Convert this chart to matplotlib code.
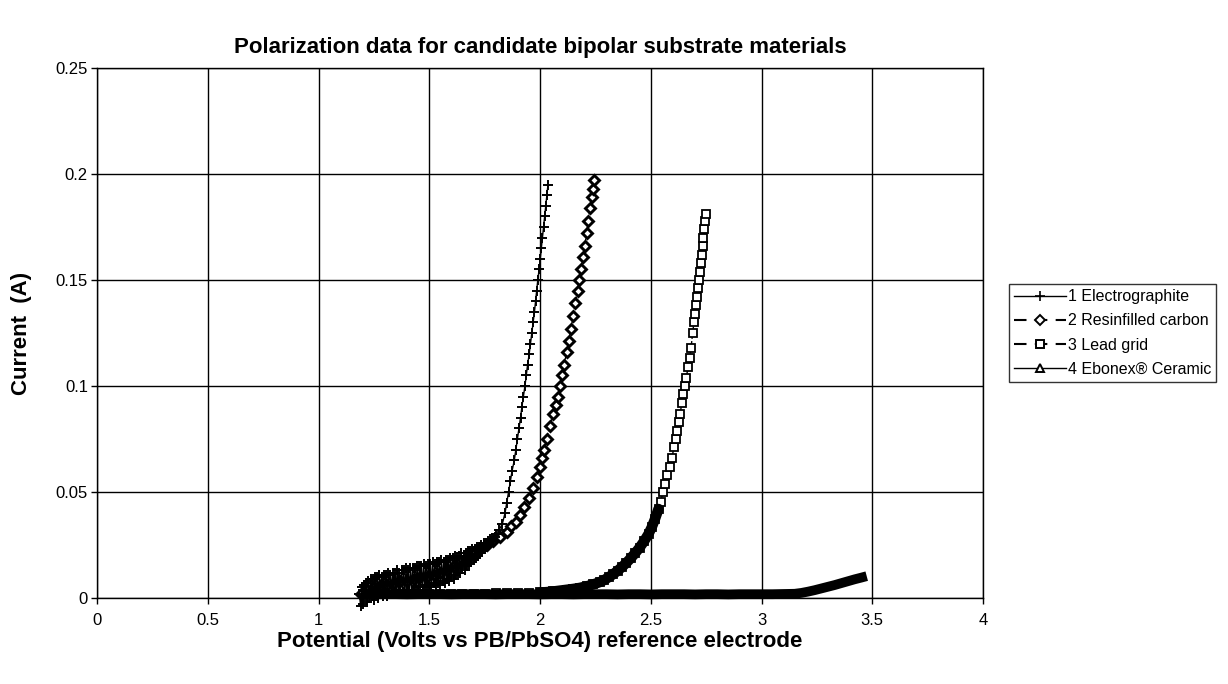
import matplotlib
matplotlib.use('Agg')
import matplotlib.pyplot as plt
import matplotlib.ticker as ticker
from matplotlib.lines import Line2D

plt.rcParams['font.family'] = ['Liberation Sans', 'DejaVu Sans']

# ---------------------------------------------------------------------------
# Data
# ---------------------------------------------------------------------------

title = "Polarization data for candidate bipolar substrate materials"
xlabel = "Potential (Volts vs PB/PbSO4) reference electrode"
ylabel = "Current  (A)"
labels = ["1 Electrographite", "2 Resinfilled carbon", "3 Lead grid", "4 Ebonex\u00ae Ceramic"]

x_ticks = [0, 0.5, 1, 1.5, 2, 2.5, 3, 3.5, 4]
y_ticks = [0, 0.05, 0.1, 0.15, 0.2, 0.25]

# 1 Electrographite: noisy plateau then steep rise
graphite_v = [1.185, 1.190, 1.195, 1.200, 1.205, 1.210, 1.215, 1.220, 1.225, 1.230,
              1.235, 1.240, 1.245, 1.250, 1.255, 1.260, 1.265, 1.270, 1.275, 1.280,
              1.285, 1.290, 1.295, 1.300, 1.305, 1.310, 1.315, 1.320, 1.325, 1.330,
              1.335, 1.340, 1.345, 1.350, 1.355, 1.360, 1.365, 1.370, 1.375, 1.380,
              1.385, 1.390, 1.395, 1.400, 1.405, 1.410, 1.415, 1.420, 1.425, 1.430,
              1.435, 1.440, 1.445, 1.450, 1.455, 1.460, 1.465, 1.470, 1.475, 1.480,
              1.485, 1.490, 1.495, 1.500, 1.505, 1.510, 1.515, 1.520, 1.525, 1.530,
              1.535, 1.540, 1.545, 1.550, 1.555, 1.560, 1.565, 1.570, 1.575, 1.580,
              1.585, 1.590, 1.595, 1.600, 1.605, 1.610, 1.615, 1.620, 1.625, 1.630,
              1.635, 1.640, 1.645, 1.650, 1.655, 1.660, 1.665, 1.670, 1.675, 1.680,
              1.685, 1.690, 1.695, 1.700, 1.705, 1.710, 1.715, 1.720, 1.725, 1.730,
              1.735, 1.740, 1.745, 1.750, 1.755, 1.760, 1.765, 1.770, 1.775, 1.780,
              1.785, 1.790, 1.795, 1.800,
              1.815, 1.830, 1.842, 1.850, 1.858, 1.866, 1.874, 1.884, 1.891, 1.898,
              1.905, 1.912, 1.918, 1.925, 1.932, 1.938, 1.944, 1.951, 1.957, 1.963,
              1.969, 1.975, 1.980, 1.985, 1.990, 1.996, 2.001, 2.006, 2.011, 2.016,
              2.021, 2.026, 2.031, 2.036]
graphite_i = [0.002, -0.004, 0.005, -0.003, 0.006, 0.001, 0.007, -0.002, 0.008, 0.000,
              0.009, 0.001, 0.009, -0.001, 0.010, 0.002, 0.010, 0.000, 0.011, 0.002,
              0.010, 0.001, 0.011, 0.003, 0.011, 0.001, 0.012, 0.002, 0.011, 0.003,
              0.012, 0.002, 0.012, 0.003, 0.013, 0.002, 0.012, 0.004, 0.013, 0.003,
              0.013, 0.002, 0.014, 0.004, 0.013, 0.003, 0.014, 0.004, 0.014, 0.003,
              0.014, 0.005, 0.015, 0.004, 0.015, 0.005, 0.015, 0.004, 0.016, 0.006,
              0.015, 0.005, 0.016, 0.006, 0.016, 0.005, 0.017, 0.007, 0.016, 0.006,
              0.017, 0.007, 0.017, 0.006, 0.018, 0.008, 0.017, 0.007, 0.018, 0.009,
              0.018, 0.008, 0.019, 0.010, 0.019, 0.009, 0.020, 0.011, 0.019, 0.012,
              0.020, 0.012, 0.021, 0.014, 0.020, 0.013, 0.021, 0.015, 0.022, 0.016,
              0.022, 0.017, 0.023, 0.018, 0.023, 0.019, 0.024, 0.020, 0.024, 0.021,
              0.025, 0.022, 0.026, 0.023, 0.026, 0.024, 0.027, 0.025, 0.028, 0.026,
              0.028, 0.027, 0.029, 0.030,
              0.032, 0.035, 0.040, 0.045, 0.050, 0.055, 0.060, 0.065, 0.070, 0.075,
              0.080, 0.085, 0.090, 0.095, 0.100, 0.105, 0.110, 0.115, 0.120, 0.125,
              0.130, 0.135, 0.140, 0.145, 0.150, 0.155, 0.160, 0.165, 0.170, 0.175,
              0.180, 0.185, 0.190, 0.195]

# 2 Resinfilled carbon
resin_v = [1.19, 1.22, 1.25, 1.28, 1.31, 1.34, 1.37, 1.40, 1.43, 1.46, 1.49, 1.52,
           1.55, 1.58, 1.61, 1.64, 1.67, 1.70, 1.73, 1.76, 1.79,
           1.82, 1.85, 1.87, 1.89, 1.91, 1.93, 1.95, 1.97, 1.985, 2.00, 2.01, 2.02,
           2.03, 2.045, 2.06, 2.07, 2.08, 2.09, 2.10, 2.11, 2.12, 2.13, 2.14, 2.15,
           2.16, 2.17, 2.178, 2.186, 2.194, 2.202, 2.21, 2.218, 2.226, 2.234, 2.240, 2.245]
resin_i = [0.002, 0.004, 0.005, 0.006, 0.006, 0.007, 0.008, 0.008, 0.009, 0.010, 0.010, 0.011,
           0.012, 0.013, 0.015, 0.017, 0.019, 0.021, 0.023, 0.025, 0.027,
           0.029, 0.031, 0.034, 0.036, 0.039, 0.043, 0.047, 0.052, 0.057, 0.062, 0.066, 0.070,
           0.075, 0.081, 0.087, 0.091, 0.095, 0.100, 0.105, 0.110, 0.116, 0.121, 0.127, 0.133,
           0.139, 0.145, 0.150, 0.155, 0.161, 0.166, 0.172, 0.178, 0.184, 0.189, 0.193, 0.197]

# 3 Lead grid
lead_v = [1.50, 1.55, 1.60, 1.65, 1.70, 1.75, 1.80, 1.85, 1.90, 1.95, 2.00, 2.03,
          2.06, 2.09, 2.12, 2.15, 2.18, 2.21, 2.24, 2.27, 2.29, 2.31, 2.33, 2.35,
          2.37, 2.39, 2.41, 2.43, 2.45, 2.47, 2.49, 2.505, 2.52, 2.535, 2.545, 2.555,
          2.565, 2.575, 2.585, 2.595, 2.605, 2.612, 2.619, 2.626, 2.633, 2.640, 2.647,
          2.654, 2.661, 2.668, 2.675, 2.682, 2.689, 2.695, 2.700, 2.705, 2.710, 2.714,
          2.718, 2.722, 2.726, 2.730, 2.734, 2.738, 2.742, 2.746, 2.749]
lead_i = [0.0020, 0.0020, 0.0021, 0.0020, 0.0021, 0.0021, 0.0022, 0.0022, 0.0023, 0.0024,
          0.0026, 0.0028, 0.0031, 0.0035, 0.0039, 0.0043, 0.0048, 0.0055, 0.0064, 0.0075,
          0.0085, 0.0098, 0.0112, 0.0128, 0.0146, 0.0166, 0.0188, 0.0212, 0.0238, 0.0268,
          0.0302, 0.0335, 0.0375, 0.0420, 0.0455, 0.050, 0.054, 0.058, 0.062, 0.066,
          0.071, 0.075, 0.079, 0.083, 0.087, 0.092, 0.096, 0.100, 0.104, 0.109, 0.113,
          0.118, 0.125, 0.130, 0.134, 0.138, 0.142, 0.146, 0.150, 0.154, 0.158, 0.162,
          0.166, 0.170, 0.174, 0.178, 0.181]
# slice where the squares merge into one solid black stroke
lead_solid = slice(10, 34)

# 4 Ebonex Ceramic: flat near zero, slight rise above 3.15 V
ebonex_v = [1.20, 1.25, 1.30, 1.35, 1.40, 1.45, 1.50, 1.55, 1.60, 1.65, 1.70, 1.75,
            1.80, 1.85, 1.90, 1.95, 2.00, 2.05, 2.10, 2.15, 2.20, 2.25, 2.30, 2.35,
            2.40, 2.45, 2.50, 2.55, 2.60, 2.65, 2.70, 2.75, 2.80, 2.85, 2.90, 2.95,
            3.00, 3.05, 3.10, 3.15, 3.18, 3.21, 3.24, 3.27, 3.30, 3.33, 3.36, 3.39,
            3.42, 3.45, 3.475]
ebonex_i = [0.0018, 0.0017, 0.0018, 0.0018, 0.0017, 0.0018, 0.0018, 0.0018, 0.0017, 0.0018,
            0.0018, 0.0018, 0.0017, 0.0018, 0.0018, 0.0018, 0.0017, 0.0018, 0.0018, 0.0017,
            0.0018, 0.0018, 0.0018, 0.0017, 0.0018, 0.0018, 0.0017, 0.0018, 0.0018, 0.0018,
            0.0017, 0.0018, 0.0018, 0.0017, 0.0018, 0.0018, 0.0018, 0.0018, 0.0019, 0.0020,
            0.0024, 0.0030, 0.0037, 0.0045, 0.0053, 0.0061, 0.0070, 0.0079, 0.0088, 0.0096,
            0.0103]

# ---------------------------------------------------------------------------
# Figure
# ---------------------------------------------------------------------------

W, H = 1228, 684
fig = plt.figure(figsize=(W / 100, H / 100), dpi=100)
ax = fig.add_axes([97 / W, 86 / H, 886 / W, 530 / H])

ax.plot(resin_v, resin_i, color='black', lw=1, ls='--', marker='D', ms=5.5,
        mfc='white', mec='black', mew=2.1, clip_on=False, zorder=3)
ax.plot(graphite_v, graphite_i, color='black', lw=1, ls='-', marker='+',
        ms=7.5, mew=1.4, clip_on=False, zorder=4)
ax.plot(lead_v, lead_i, color='black', lw=1, ls='--', marker='s', ms=6,
        mfc='white', mec='black', mew=1.3, clip_on=False, zorder=5)
ax.plot(lead_v[lead_solid], lead_i[lead_solid], color='black', lw=7.5,
        solid_capstyle='round', clip_on=False, zorder=6)
# the dense triangles merge into one thick black stroke
ax.plot(ebonex_v, ebonex_i, color='black', lw=7, solid_capstyle='butt',
        clip_on=False, zorder=7)

ax.set_xlim(0, 4)
ax.set_ylim(0, 0.25)
ax.set_xticks(x_ticks)
ax.set_yticks(y_ticks)
ax.xaxis.set_major_formatter(ticker.FormatStrFormatter('%g'))
ax.yaxis.set_major_formatter(ticker.FormatStrFormatter('%g'))
ax.tick_params(direction='out', length=4.5, width=1, labelsize=12, pad=2, colors='black')
ax.tick_params(axis='x', pad=6)
ax.grid(True, color='black', lw=1)
ax.set_axisbelow(True)
for sp in ax.spines.values():
    sp.set_color('black')
    sp.set_linewidth(1)

fig.text(540 / W, 1 - 48 / H, title, ha='center', va='center',
         fontsize=16, fontweight='bold')
fig.text(540 / W, 1 - 641 / H, xlabel, ha='center', va='center',
         fontsize=16, fontweight='bold')
fig.text(22 / W, 1 - 333 / H, ylabel, ha='center', va='center',
         rotation=90, fontsize=16, fontweight='bold')

dash = (0, (6, 4))
handles = [
    Line2D([], [], color='black', lw=1, ls='-', marker='+', ms=7, mew=1.2),
    Line2D([], [], color='black', lw=1.5, ls=dash, marker='D', ms=5,
           mfc='white', mec='black', mew=1.4),
    Line2D([], [], color='black', lw=1.5, ls=dash, marker='s', ms=6,
           mfc='white', mec='black', mew=1.4),
    Line2D([], [], color='black', lw=1, ls='-', marker='^', ms=6,
           mfc='white', mec='black', mew=1.4),
]
leg = fig.legend(handles, labels, loc='center left',
                 bbox_to_anchor=(1009 / W, 1 - 333 / H), fontsize=11.5,
                 frameon=True, fancybox=False, edgecolor='black',
                 handlelength=3.25, handletextpad=0.15, borderpad=0.3,
                 labelspacing=0.58, borderaxespad=0)
leg.get_frame().set_linewidth(1)

fig.savefig("out.png", dpi=100)
